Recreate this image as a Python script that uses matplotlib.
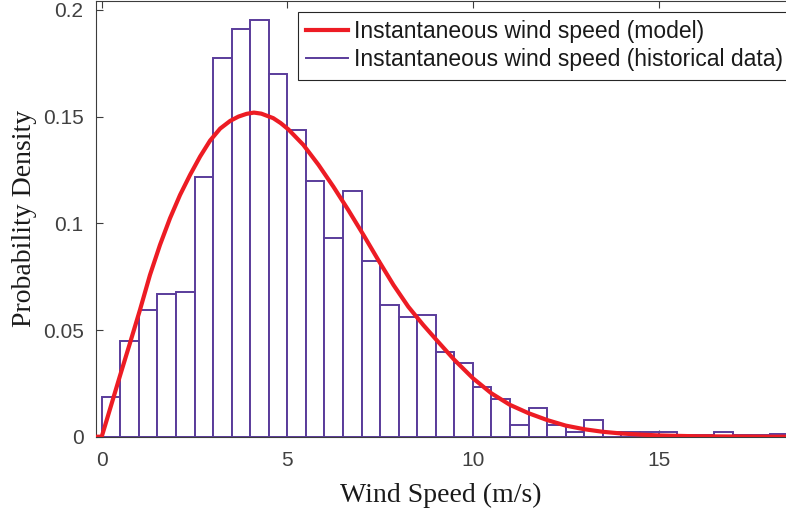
import numpy as np
import matplotlib
matplotlib.use('Agg')
import matplotlib.pyplot as plt
from matplotlib.lines import Line2D

# histogram of measured wind speed, 0.5 m/s bins starting at 0
bin_width = 0.5
hist_density = [0.0187, 0.0449, 0.0592, 0.0668, 0.0677, 0.1216, 0.1777, 0.1910,
                0.1953, 0.1700, 0.1436, 0.1197, 0.0932, 0.1151, 0.0823, 0.0615,
                0.0561, 0.0572, 0.0397, 0.0344, 0.0233, 0.0178, 0.0056, 0.0134,
                0.0057, 0.0023, 0.0080, 0.0020, 0.0020, 0.0023, 0.0023, 0.0008,
                0.0010, 0.0023, 0.0008, 0.0008, 0.0014]
bin_left = np.arange(len(hist_density)) * bin_width

# fitted model pdf
model_speed = [-0.2, 0, 0.5, 0.76, 1.03, 1.30, 1.57, 1.84, 2.11, 2.38, 2.65, 2.92,
               3.19, 3.46, 3.68, 3.9, 4.1, 4.3, 4.62, 4.82, 5.03, 5.43, 5.84, 6.24,
               6.64, 7.05, 7.45, 7.86, 8.26, 8.66, 9.02, 9.5, 10, 10.5, 11, 11.5,
               12, 12.5, 13, 13.5, 14, 14.5, 15, 16, 17, 18, 19]
model_pdf = [0, 0, 0.029, 0.0438, 0.0594, 0.0758, 0.0899, 0.1024, 0.1133, 0.1227,
             0.1313, 0.1388, 0.1444, 0.1480, 0.1500, 0.1513, 0.1519, 0.1514, 0.1493,
             0.1470, 0.1440, 0.1368, 0.1274, 0.1172, 0.1063, 0.0946, 0.0828, 0.0711,
             0.0609, 0.0524, 0.0453, 0.0360, 0.0274, 0.0203, 0.0149, 0.0110, 0.0078,
             0.0052, 0.0035, 0.0023, 0.0015, 0.0010, 0.0006, 0.0002, 0.0001, 0, 0]

xtick_vals = [0, 5, 10, 15]
ytick_vals = [0, 0.05, 0.1, 0.15, 0.2]
ytick_text = ['0', '0.05', '0.1', '0.15', '0.2']

hist_col = '#5a3c9b'
model_col = '#ed1c24'
axis_col = '#3c3c3c'

W, H = 786, 514
fig = plt.figure(figsize=(W / 100, H / 100), dpi=100)
ax = fig.add_axes([96 / W, (H - 436.7) / H, (W - 96) / W, 435.7 / H])

ax.bar(bin_left, hist_density, width=bin_width, align='edge', color='white',
       edgecolor=hist_col, linewidth=1.4, zorder=2)
ax.plot(model_speed, model_pdf, color=model_col, linewidth=3, zorder=3,
        solid_joinstyle='round')

ax.set_xlim(-0.154, 18.434)
ax.set_ylim(0, 0.2042)
ax.set_xticks(xtick_vals)
ax.set_xticklabels([str(v) for v in xtick_vals])
ax.set_yticks(ytick_vals)
ax.set_yticklabels(ytick_text)

ax.tick_params(direction='in', length=5, width=0.8, top=True, right=False,
               color=axis_col, labelcolor='#404040', labelsize=15)
ax.tick_params(axis='x', pad=10.5)
ax.tick_params(axis='y', pad=9)
for lab in ax.get_xticklabels() + ax.get_yticklabels():
    lab.set_fontfamily('Liberation Sans')
for side in ['left', 'bottom', 'top']:
    ax.spines[side].set_color(axis_col)
    ax.spines[side].set_linewidth(0.8)
ax.spines['right'].set_visible(False)

ax.set_xlabel('Wind Speed (m/s)', family='Liberation Serif', fontsize=20,
              color='#1a1a1a', labelpad=9)
ax.set_ylabel('Probability Density', family='Liberation Serif', fontsize=20,
              color='#1a1a1a', labelpad=4)

handles = [Line2D([], [], color=model_col, linewidth=3),
           Line2D([], [], color=hist_col, linewidth=1.4)]
labels = ['Instantaneous wind speed (model)',
          'Instantaneous wind speed (historical data)']
leg = ax.legend(handles, labels, loc='upper left',
                bbox_to_anchor=(298 / W, 1 - 12 / H), bbox_transform=fig.transFigure,
                prop={'family': 'Liberation Sans', 'size': 16.5},
                handlelength=1.8, handletextpad=0.3, labelspacing=0.22,
                borderpad=0.36, borderaxespad=0, fancybox=False, framealpha=1)
leg.get_frame().set_edgecolor('#262626')
leg.get_frame().set_linewidth(0.8)
for t in leg.get_texts():
    t.set_color('#1a1a1a')

fig.savefig('out.png', dpi=100)
